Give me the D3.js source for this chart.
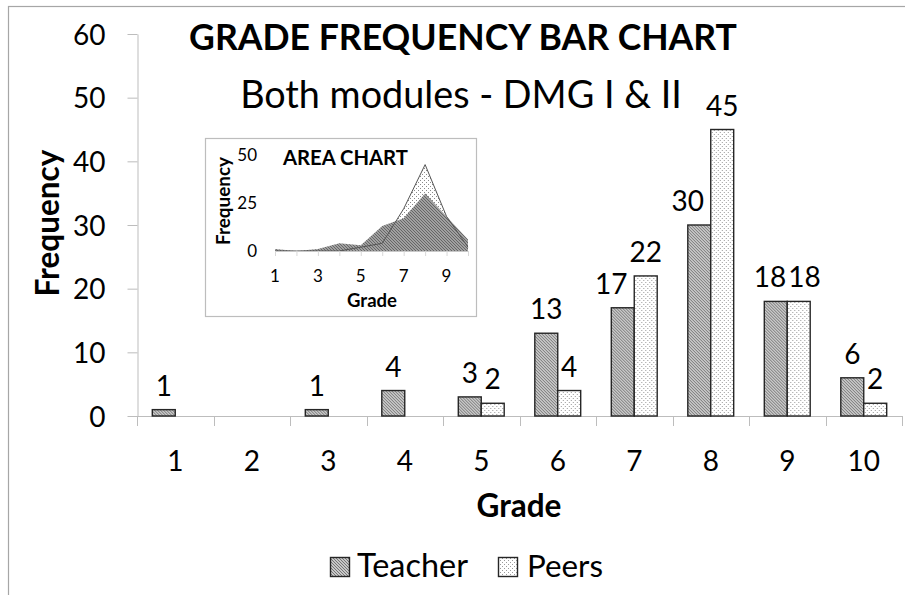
<!DOCTYPE html>
<html>
<head>
<meta charset="utf-8">
<script src="https://cdn.jsdelivr.net/npm/d3@7"></script>
<style>
  html, body { margin: 0; padding: 0; background: #fff; }
  svg { display: block; }
  text { font-family: Lato, "Open Sans", sans-serif; fill: #000; }
</style>
</head>
<body>
<svg id="chart" width="905" height="595"></svg>
<script>
// ---- data ----
const grades = ["1","2","3","4","5","6","7","8","9","10"];
const seriesNames = ["Teacher", "Peers"];
const teacher = [1, 0, 1, 4, 3, 13, 17, 30, 18, 6];
const peers = [0, 0, 0, 0, 2, 4, 22, 45, 18, 2];
const yTicks = [0, 10, 20, 30, 40, 50, 60];
const insetYTicks = [0, 25, 50];
const insetXTicks = ["1", "3", "5", "7", "9"];
const titleText = "GRADE FREQUENCY BAR CHART";
const subtitleText = "Both modules - DMG I & II";

const svg = d3.select("#chart");
const axisColor = "#bdbdbd";

// patterns
const defs = svg.append("defs");
function hatch(id, bg, line, size, lw) {
  const p = defs.append("pattern").attr("id", id).attr("patternUnits", "userSpaceOnUse")
    .attr("width", size).attr("height", size);
  p.append("rect").attr("width", size).attr("height", size).attr("fill", bg);
  p.append("path").attr("d", `M0,0 L${size},${size} M${-size},0 L${size},${2*size} M0,${-size} L${2*size},${size}`)
    .attr("stroke", line).attr("stroke-width", lw);
}
function dots(id, bg, dot, size) {
  const p = defs.append("pattern").attr("id", id).attr("patternUnits", "userSpaceOnUse")
    .attr("width", size).attr("height", size);
  p.append("rect").attr("width", size).attr("height", size).attr("fill", bg);
  p.append("rect").attr("x", 0).attr("y", 0).attr("width", 1).attr("height", 1).attr("fill", dot);
  p.append("rect").attr("x", size/2).attr("y", size/2).attr("width", 1).attr("height", 1).attr("fill", dot);
}
hatch("hatchT", "#c8c8c8", "#767676", 3, 1);
dots("dotP", "#ffffff", "#9a9a9a", 4);
hatch("hatchTi", "#a0a0a0", "#666666", 3, 1);
dots("dotPi", "#ffffff", "#8a8a8a", 4);

// outer border
svg.append("rect").attr("x", 8.5).attr("y", 6.5).attr("width", 1000).attr("height", 1000)
  .attr("fill", "none").attr("stroke", "#a6a6a6").attr("stroke-width", 1.2);

function fitWidth(sel, w) {
  const l = sel.node().getComputedTextLength();
  const fs = parseFloat(sel.attr("font-size"));
  sel.attr("font-size", fs * w / l);
  return sel;
}

// ---- main scales ----
const x = d3.scaleBand().domain(grades).range([137, 902]).paddingInner(0.4).paddingOuter(0.2);
const x1 = d3.scaleBand().domain(seriesNames).range([0, x.bandwidth()]);
const y = d3.scaleLinear().domain([0, 60]).range([416, 34]);

// y axis
const yAxis = d3.axisLeft(y).tickValues(yTicks).tickSize(10).tickSizeOuter(0).tickPadding(22);
const gy = svg.append("g").attr("transform", "translate(137.5,0)").call(yAxis);
gy.select(".domain").attr("stroke", axisColor);
gy.selectAll(".tick line").attr("stroke", axisColor);
gy.selectAll(".tick text").attr("font-size", 28).attr("font-family", "Lato").attr("dy", "0.36em").attr("fill", "#000");

// x axis
const gx = svg.append("g").attr("transform", "translate(0,416.5)")
  .call(d3.axisBottom(x).tickSize(0).tickPadding(0));
gx.select(".domain").remove();
gx.selectAll(".tick text").attr("font-size", 28).attr("font-family", "Lato").attr("dy", null)
  .attr("y", 54).attr("fill", "#000");
svg.append("line").attr("x1", 137).attr("x2", 902).attr("y1", 416.5).attr("y2", 416.5).attr("stroke", axisColor);
const half = (x.step() - x.bandwidth()) / 2;
const bounds = grades.map(g => x(g) - half).concat([x(grades[grades.length - 1]) + x.bandwidth() + half]);
svg.selectAll(".xb").data(bounds).join("line").attr("class", "xb")
  .attr("x1", d => Math.round(d) + 0.5).attr("x2", d => Math.round(d) + 0.5)
  .attr("y1", 416).attr("y2", 426).attr("stroke", axisColor);

// bars
const rows = grades.map((g, i) => ({ g, vals: [ { s: "Teacher", v: teacher[i] }, { s: "Peers", v: peers[i] } ] }));
const fills = { Teacher: "url(#hatchT)", Peers: "url(#dotP)" };
const groups = svg.selectAll(".grp").data(rows).join("g").attr("class", "grp")
  .attr("transform", d => `translate(${x(d.g)},0)`);
groups.selectAll("rect").data(d => d.vals.filter(o => o.v > 0)).join("rect")
  .attr("x", d => x1(d.s)).attr("width", x1.bandwidth())
  .attr("y", d => y(d.v)).attr("height", d => y(0) - y(d.v))
  .attr("fill", d => fills[d.s]).attr("stroke", "#262626").attr("stroke-width", 1.4);

// data labels (teacher label nudged left when both labels are shown, as in the source)
groups.each(function(d) {
  const g = d3.select(this);
  const labs = [];
  d.vals.forEach(o => {
    if (o.v <= 0) return;
    const t = g.append("text").attr("font-size", 28).attr("text-anchor", "middle")
      .attr("x", x1(o.s) + x1.bandwidth() / 2).attr("y", y(o.v) - 14).text(o.v);
    labs.push({ t, cx: x1(o.s) + x1.bandwidth() / 2, w: t.node().getComputedTextLength(), yy: y(o.v) });
  });
  if (labs.length === 2) {
    const overlap = (labs[0].cx + labs[0].w / 2) - (labs[1].cx - labs[1].w / 2) + 2;
    if (Math.abs(labs[0].yy - labs[1].yy) < 20 && overlap > 0) {
      labs[0].t.attr("x", labs[0].cx - overlap / 2);
      labs[1].t.attr("x", labs[1].cx + overlap / 2);
    } else if (labs[0].yy > labs[1].yy && overlap > 0) {
      labs[0].t.attr("x", labs[0].cx - Math.min(overlap, 14));
    }
  }
});

// axis titles
fitWidth(svg.append("text").attr("font-size", 28).attr("font-weight", 700).attr("text-anchor", "middle")
  .attr("x", 519).attr("y", 517).text("Grade"), 85);
fitWidth(svg.append("text").attr("font-size", 28).attr("font-weight", 700).attr("text-anchor", "middle")
  .attr("transform", "translate(59,223) rotate(-90)").text("Frequency"), 147);

// titles
fitWidth(svg.append("text").attr("font-size", 28).attr("font-weight", 700).attr("text-anchor", "middle")
  .attr("x", 463).attr("y", 50).text(titleText), 548);
fitWidth(svg.append("text").attr("font-size", 28).attr("text-anchor", "middle")
  .attr("x", 461).attr("y", 108).text(subtitleText), 442);

// legend
const legend = svg.append("g");
const legItems = [ { s: "Teacher", sx: 330, tx: 357, w: 111 }, { s: "Peers", sx: 498, tx: 527, w: 76 } ];
legItems.forEach(it => {
  legend.append("rect").attr("x", it.sx + 0.5).attr("y", 557.5).attr("width", 19).attr("height", 19)
    .attr("fill", fills[it.s]).attr("stroke", "#262626").attr("stroke-width", 1.4);
  fitWidth(legend.append("text").attr("font-size", 28).attr("x", it.tx).attr("y", 577).text(it.s), it.w);
});

// ---- inset area chart ----
const inset = svg.append("g");
inset.append("rect").attr("x", 205.5).attr("y", 138.5).attr("width", 271).attr("height", 178)
  .attr("fill", "#fff").attr("stroke", "#bdbdbd").attr("stroke-width", 1.2);
const xi = d3.scalePoint().domain(grades).range([275, 468]);
const yi = d3.scaleLinear().domain([0, 50]).range([251, 155]);

const areaGen = d3.area().x((d, i) => xi(grades[i])).y0(yi(0)).y1(d => yi(d));
const lineGen = d3.line().x((d, i) => xi(grades[i])).y(d => yi(d));
inset.append("path").datum(peers).attr("d", areaGen).attr("fill", "url(#dotPi)");
inset.append("path").datum(teacher).attr("d", areaGen).attr("fill", "url(#hatchTi)");
inset.append("path").datum(peers).attr("d", lineGen).attr("fill", "none").attr("stroke", "#555").attr("stroke-width", 1);

inset.append("line").attr("x1", 275).attr("x2", 468).attr("y1", 251.5).attr("y2", 251.5).attr("stroke", "#c8c8c8");
inset.selectAll(".it").data(grades).join("line").attr("class", "it")
  .attr("x1", d => xi(d) + 0.5).attr("x2", d => xi(d) + 0.5).attr("y1", 251).attr("y2", 256)
  .attr("stroke", "#d8d8d8");

inset.selectAll(".iyl").data(insetYTicks).join("text").attr("class", "iyl")
  .attr("font-size", 17).attr("text-anchor", "end").attr("x", 257).attr("y", d => yi(d) + 6).text(d => d);
inset.selectAll(".ixl").data(insetXTicks).join("text").attr("class", "ixl")
  .attr("font-size", 17).attr("text-anchor", "middle").attr("x", d => xi(d)).attr("y", 282).text(d => d);

fitWidth(inset.append("text").attr("font-size", 16).attr("font-weight", 700).attr("x", 283).attr("y", 165)
  .text("AREA CHART"), 125);
fitWidth(inset.append("text").attr("font-size", 16).attr("font-weight", 700).attr("text-anchor", "middle")
  .attr("x", 372).attr("y", 307).text("Grade"), 50);
fitWidth(inset.append("text").attr("font-size", 16).attr("font-weight", 700).attr("text-anchor", "middle")
  .attr("transform", "translate(230,201) rotate(-90)").text("Frequency"), 88);
</script>
</body>
</html>
